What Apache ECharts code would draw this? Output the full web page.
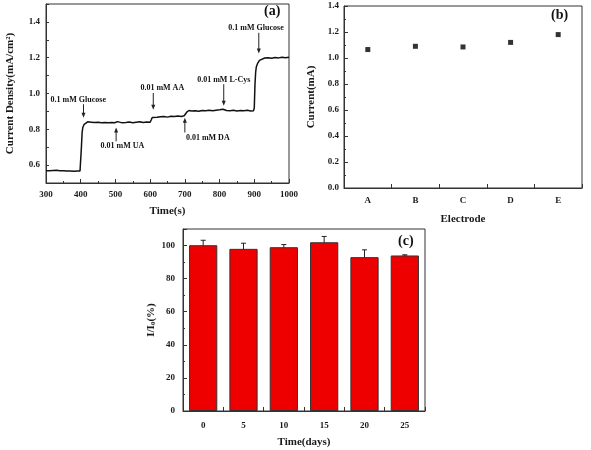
<!DOCTYPE html>
<html><head><meta charset="utf-8">
<script src="https://cdn.jsdelivr.net/npm/echarts@6/dist/echarts.min.js"></script>
<style>html,body{margin:0;padding:0;background:#fff}#c{width:591px;height:450px}</style>
</head><body><div id="c"></div>
<script>
// Panel (a): amperometric response
const timeA = [300,310,320,330,340,350,360,370,380,390,398,400,402,404,406,410,415,420,430,440,450,460,470,480,490,498,502,506,510,520,530,540,550,560,570,580,590,600,603,606,610,620,630,640,650,660,670,680,690,698,700,702,706,712,720,730,740,750,760,770,780,790,800,810,815,820,830,840,850,860,870,880,890,898,900,902,904,906,910,915,920,930,940,950,960,970,980,990,1000];
const densityA = [0.568,0.569,0.570,0.571,0.569,0.568,0.567,0.567,0.566,0.567,0.567,0.570,0.700,0.780,0.810,0.828,0.838,0.842,0.840,0.838,0.839,0.837,0.838,0.836,0.838,0.837,0.846,0.843,0.840,0.836,0.838,0.841,0.837,0.840,0.842,0.838,0.841,0.840,0.852,0.866,0.869,0.867,0.870,0.871,0.868,0.873,0.871,0.874,0.872,0.876,0.868,0.885,0.897,0.905,0.902,0.904,0.901,0.905,0.903,0.906,0.904,0.907,0.909,0.912,0.910,0.905,0.903,0.906,0.902,0.905,0.903,0.906,0.902,0.904,0.920,1.050,1.120,1.150,1.170,1.185,1.192,1.198,1.200,1.197,1.201,1.199,1.202,1.200,1.203];
const annoText = ['0.1 mM Glucose','0.01 mM UA','0.01 mM AA','0.01 mM DA','0.01 mM L-Cys','0.1 mM Glucose'];
const annoX = [408,502,609,700,812,913];
const annoTail = [0.940,0.733,1.003,0.782,1.052,1.339];
const annoHead = [0.865,0.810,0.909,0.865,0.931,1.223];
const annoTextX = [393,520,635,766,812,905];
const annoTextY = [0.964,0.705,1.030,0.749,1.074,1.367];
const yTicksA = [0.6,0.8,1.0,1.2,1.4];

// Panel (b)
const electrodes = ['A','B','C','D','E'];
const currentB = [1.065,1.09,1.085,1.12,1.18];

// Panel (c)
const days = ['0','5','10','15','20','25'];
const ratioC = [100.2,98,99,102,93,94];
const errC = [3,3.4,1.6,3.5,4.4,0.4];

const FONT = 'Liberation Serif';
const TXT = '#1a1a1a';
const lab = {fontFamily: FONT, fontWeight: 'bold', fontSize: 9, color: TXT};
const axisLine = {show: true, lineStyle: {color: '#333', width: 1}};
const tick = {show: true, inside: true, length: 4, lineStyle: {color: '#333'}};
const minor = {show: true, splitNumber: 2, length: 2, lineStyle: {color: '#333'}};
const nameStyle = {fontFamily: FONT, fontWeight: 'bold', fontSize: 11, color: TXT};

const chart = echarts.init(document.getElementById('c'), null, {renderer: 'canvas'});
chart.setOption({
  animation: false,
  backgroundColor: '#fff',
  grid: [
    {left: 46, top: 4, right: 302, bottom: 267, show: true, borderColor: '#333', borderWidth: 1},
    {left: 344, top: 6, right: 9, bottom: 262, show: true, borderColor: '#333', borderWidth: 1},
    {left: 183, top: 229, right: 166, bottom: 39, show: true, borderColor: '#333', borderWidth: 1}
  ],
  xAxis: [
    {gridIndex: 0, type: 'value', min: 300, max: 1000, interval: 100,
      axisLine, axisTick: tick, minorTick: minor, splitLine: {show: false},
      axisLabel: {...lab, margin: 7, formatter: v => String(v)},
      name: 'Time(s)', nameLocation: 'middle', nameGap: 23, nameTextStyle: nameStyle},
    {gridIndex: 1, type: 'category', data: electrodes, boundaryGap: true,
      axisLine, axisTick: {...tick}, splitLine: {show: false},
      axisLabel: {...lab, margin: 8},
      name: 'Electrode', nameLocation: 'middle', nameGap: 26, nameTextStyle: nameStyle},
    {gridIndex: 2, type: 'category', data: days, boundaryGap: true,
      axisLine, axisTick: {...tick}, splitLine: {show: false},
      axisLabel: {...lab, margin: 10},
      name: 'Time(days)', nameLocation: 'middle', nameGap: 26, nameTextStyle: nameStyle}
  ],
  yAxis: [
    {gridIndex: 0, type: 'value', min: 0.5, max: 1.5, interval: 0.1,
      axisLine, axisTick: {...tick, length: 3}, splitLine: {show: false},
      axisLabel: {...lab, margin: 6, customValues: yTicksA, formatter: v => v.toFixed(1)},
      name: 'Current Density(mA/cm²)', nameLocation: 'middle', nameGap: 30, nameRotate: 90, nameTextStyle: nameStyle},
    {gridIndex: 1, type: 'value', min: 0, max: 1.4, interval: 0.2,
      axisLine, axisTick: tick, minorTick: minor, splitLine: {show: false},
      axisLabel: {...lab, margin: 5, formatter: v => v.toFixed(1)},
      name: 'Current(mA)', nameLocation: 'middle', nameGap: 27, nameRotate: 90, nameTextStyle: nameStyle},
    {gridIndex: 2, type: 'value', min: 0, max: 110, interval: 20,
      axisLine, axisTick: tick, minorTick: minor, splitLine: {show: false},
      axisLabel: {...lab, margin: 8, showMaxLabel: false},
      name: '{a|I/I}{s|0}{a|(%)}', nameLocation: 'middle', nameGap: 26, nameRotate: 90,
      nameTextStyle: {...nameStyle, rich: {
        a: {fontFamily: FONT, fontWeight: 'bold', fontSize: 11, color: TXT},
        s: {fontFamily: FONT, fontWeight: 'bold', fontSize: 7, color: TXT, padding: [5, 0, 0, 0]}
      }}}
  ],
  graphic: [
    {type: 'text', left: 264, top: 4, style: {text: '(a)', font: 'bold 14px "Liberation Serif"', fill: '#111'}},
    {type: 'text', left: 551, top: 8, style: {text: '(b)', font: 'bold 14px "Liberation Serif"', fill: '#111'}},
    {type: 'text', left: 398, top: 234, style: {text: '(c)', font: 'bold 14px "Liberation Serif"', fill: '#111'}}
  ],
  series: [
    {type: 'line', xAxisIndex: 0, yAxisIndex: 0, data: timeA.map((t, i) => [t, densityA[i]]),
      showSymbol: false, symbol: 'none', lineStyle: {color: '#111', width: 1.5}},
    {type: 'custom', xAxisIndex: 0, yAxisIndex: 0, clip: false,
      data: annoX.map((x, i) => [x, annoTail[i], annoHead[i], annoTextX[i], annoTextY[i], i]),
      renderItem: (params, api) => {
        const x = api.value(0), tail = api.value(1), head = api.value(2);
        const p1 = api.coord([x, tail]), p2 = api.coord([x, head]);
        const pt = api.coord([api.value(3), api.value(4)]);
        const dir = p2[1] > p1[1] ? 1 : -1;
        const idx = api.value(5);
        return {type: 'group', children: [
          {type: 'line', shape: {x1: p1[0], y1: p1[1], x2: p2[0], y2: p2[1] - dir * 3}, style: {stroke: '#222', lineWidth: 1}},
          {type: 'polygon', shape: {points: [[p2[0], p2[1]], [p2[0] - 2, p2[1] - dir * 5], [p2[0] + 2, p2[1] - dir * 5]]}, style: {fill: '#222'}},
          {type: 'text', x: pt[0], y: pt[1], style: {text: annoText[idx], font: 'bold 8px "Liberation Serif"', fill: '#111', align: 'center', verticalAlign: 'middle'}}
        ]};
      }},
    {type: 'scatter', xAxisIndex: 1, yAxisIndex: 1, data: currentB, symbol: 'rect', symbolSize: 5,
      itemStyle: {color: '#000'}},
    {type: 'bar', xAxisIndex: 2, yAxisIndex: 2, data: ratioC, barWidth: '70%',
      itemStyle: {color: '#ee0000', borderColor: '#333', borderWidth: 1}},
    {type: 'custom', xAxisIndex: 2, yAxisIndex: 2,
      data: days.map((d, i) => [i, ratioC[i] - errC[i], ratioC[i] + errC[i]]),
      renderItem: (params, api) => {
        const lo = api.coord([api.value(0), api.value(1)]);
        const hi = api.coord([api.value(0), api.value(2)]);
        const w = 2.5;
        const st = {stroke: '#222', lineWidth: 1};
        return {type: 'group', children: [
          {type: 'line', shape: {x1: lo[0], y1: lo[1], x2: hi[0], y2: hi[1]}, style: st},
          {type: 'line', shape: {x1: lo[0] - w, y1: lo[1], x2: lo[0] + w, y2: lo[1]}, style: st},
          {type: 'line', shape: {x1: hi[0] - w, y1: hi[1], x2: hi[0] + w, y2: hi[1]}, style: st}
        ]};
      }}
  ]
});
</script></body></html>
